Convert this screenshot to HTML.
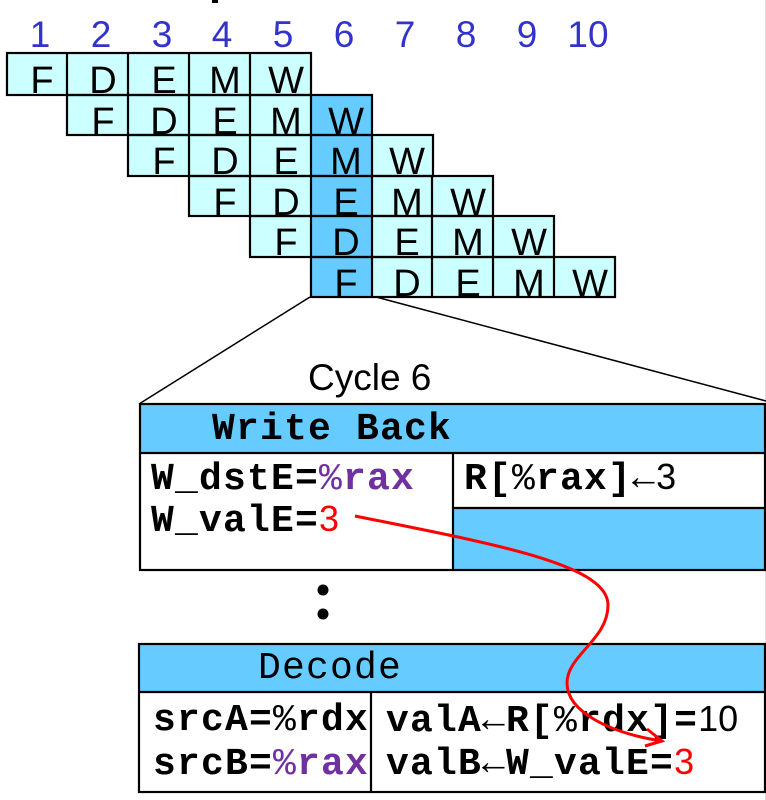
<!DOCTYPE html>
<html>
<head>
<meta charset="utf-8">
<style>
html,body{margin:0;padding:0;background:#fff;}
svg{display:block;}
.n{font-family:"Liberation Sans",Arial,sans-serif;font-size:37px;fill:#3333cc;text-anchor:middle;}
.c{font-family:"Liberation Sans",Arial,sans-serif;font-size:38px;fill:#000;text-anchor:middle;}
.m{font-family:"Liberation Mono","Courier New",monospace;font-size:38px;letter-spacing:1.2px;font-weight:bold;fill:#000;}
.t{font-weight:normal;}
.s{font-family:"Liberation Sans",Arial,sans-serif;font-weight:normal;font-size:36px;letter-spacing:0;}
.p{fill:#7030a0;}
.r{fill:#ff0000;}
</style>
</head>
<body>
<svg width="766" height="800" viewBox="0 0 766 800" xmlns="http://www.w3.org/2000/svg">
<rect x="0" y="0" width="766" height="800" fill="#fff"/>
<line x1="765.5" y1="0" x2="765.5" y2="800" stroke="#dddddd" stroke-width="1"/>
<rect x="212" y="0" width="6" height="3" fill="#000"/>

<!-- column numbers -->
<g class="n">
<text x="40" y="47">1</text>
<text x="101" y="47">2</text>
<text x="162" y="47">3</text>
<text x="222" y="47">4</text>
<text x="283" y="47">5</text>
<text x="344" y="47">6</text>
<text x="405" y="47">7</text>
<text x="466" y="47">8</text>
<text x="527" y="47">9</text>
<text x="588" y="47">10</text>
</g>

<!-- pipeline grid -->
<g>
<rect x="7" y="53" width="304" height="42" fill="#ccffff"/>
<rect x="67" y="95" width="244" height="40" fill="#ccffff"/>
<rect x="311" y="95" width="61" height="40" fill="#66ccff"/>
<rect x="128" y="135" width="183" height="41" fill="#ccffff"/>
<rect x="311" y="135" width="61" height="41" fill="#66ccff"/>
<rect x="372" y="135" width="61" height="41" fill="#ccffff"/>
<rect x="189" y="176" width="122" height="40" fill="#ccffff"/>
<rect x="311" y="176" width="61" height="40" fill="#66ccff"/>
<rect x="372" y="176" width="121" height="40" fill="#ccffff"/>
<rect x="250" y="216" width="61" height="41" fill="#ccffff"/>
<rect x="311" y="216" width="61" height="41" fill="#66ccff"/>
<rect x="372" y="216" width="182" height="41" fill="#ccffff"/>
<rect x="311" y="257" width="61" height="40" fill="#66ccff"/>
<rect x="372" y="257" width="243" height="40" fill="#ccffff"/>
</g>

<g class="c">
<text x="42" y="93">F</text><text x="103" y="93">D</text><text x="164" y="93">E</text><text x="225" y="93">M</text><text x="286" y="93">W</text>
<text x="103" y="134">F</text><text x="164" y="134">D</text><text x="225" y="134">E</text><text x="286" y="134">M</text><text x="346" y="134">W</text>
<text x="164" y="174">F</text><text x="225" y="174">D</text><text x="286" y="174">E</text><text x="346" y="174">M</text><text x="407" y="174">W</text>
<text x="225" y="215">F</text><text x="286" y="215">D</text><text x="346" y="215">E</text><text x="407" y="215">M</text><text x="468" y="215">W</text>
<text x="286" y="255">F</text><text x="346" y="255">D</text><text x="407" y="255">E</text><text x="468" y="255">M</text><text x="529" y="255">W</text>
<text x="346" y="296">F</text><text x="407" y="296">D</text><text x="468" y="296">E</text><text x="529" y="296">M</text><text x="590" y="296">W</text>
</g>

<g fill="none" stroke="#000" stroke-width="2.2">
<rect x="7" y="53" width="304" height="42"/>
<line x1="67" y1="53" x2="67" y2="95"/><line x1="128" y1="53" x2="128" y2="95"/><line x1="189" y1="53" x2="189" y2="95"/><line x1="250" y1="53" x2="250" y2="95"/>
<rect x="67" y="95" width="305" height="40"/>
<line x1="128" y1="95" x2="128" y2="135"/><line x1="189" y1="95" x2="189" y2="135"/><line x1="250" y1="95" x2="250" y2="135"/><line x1="311" y1="95" x2="311" y2="135"/>
<rect x="128" y="135" width="305" height="41"/>
<line x1="189" y1="135" x2="189" y2="176"/><line x1="250" y1="135" x2="250" y2="176"/><line x1="311" y1="135" x2="311" y2="176"/><line x1="372" y1="135" x2="372" y2="176"/>
<rect x="189" y="176" width="304" height="40"/>
<line x1="250" y1="176" x2="250" y2="216"/><line x1="311" y1="176" x2="311" y2="216"/><line x1="372" y1="176" x2="372" y2="216"/><line x1="432" y1="176" x2="432" y2="216"/>
<rect x="250" y="216" width="304" height="41"/>
<line x1="311" y1="216" x2="311" y2="257"/><line x1="372" y1="216" x2="372" y2="257"/><line x1="432" y1="216" x2="432" y2="257"/><line x1="493" y1="216" x2="493" y2="257"/>
<rect x="311" y="257" width="304" height="40"/>
<line x1="372" y1="257" x2="372" y2="297"/><line x1="432" y1="257" x2="432" y2="297"/><line x1="493" y1="257" x2="493" y2="297"/><line x1="554" y1="257" x2="554" y2="297"/>
</g>

<!-- zoom lines -->
<line x1="310" y1="297" x2="139" y2="404" stroke="#000" stroke-width="1.5"/>
<line x1="376" y1="297" x2="766" y2="401" stroke="#000" stroke-width="1.5"/>

<text x="308" y="390" font-family="Liberation Sans, Arial, sans-serif" font-size="37" fill="#000">Cycle 6</text>

<!-- Write Back box -->
<rect x="140" y="404" width="625" height="49" fill="#66ccff"/>
<rect x="453" y="508" width="312" height="62" fill="#66ccff"/>
<g fill="none" stroke="#000" stroke-width="2.2">
<rect x="140" y="404" width="625" height="166"/>
<line x1="140" y1="453" x2="765" y2="453"/>
<line x1="453" y1="453" x2="453" y2="570"/>
<line x1="453" y1="508" x2="765" y2="508"/>
</g>
<text class="m" x="212" y="439">Write Back</text>
<text class="m" x="151" y="489">W_dstE=<tspan class="p t">%</tspan><tspan class="p">rax</tspan></text>
<text class="m" x="151" y="531">W_valE=<tspan class="s r">3</tspan></text>
<text class="m" x="464" y="489">R[<tspan class="t">%</tspan>rax]<tspan class="t">←</tspan><tspan class="s">3</tspan></text>

<!-- colon -->
<circle cx="323" cy="590" r="5.5" fill="#000"/>
<circle cx="323" cy="614" r="5.5" fill="#000"/>

<!-- Decode box -->
<rect x="139" y="644" width="626" height="48" fill="#66ccff"/>
<g fill="none" stroke="#000" stroke-width="2.2">
<rect x="139" y="644" width="626" height="148"/>
<line x1="139" y1="692" x2="765" y2="692"/>
<line x1="371" y1="692" x2="371" y2="792"/>
</g>
<text class="m t" x="258" y="678">Decode</text>
<text class="m" x="153" y="730">srcA=<tspan class="t">%</tspan>rdx</text>
<text class="m" x="153" y="774">srcB=<tspan class="p t">%</tspan><tspan class="p">rax</tspan></text>
<text class="m" x="386" y="731">valA<tspan class="t">←</tspan>R[<tspan class="t">%</tspan>rdx]=<tspan class="s">10</tspan></text>
<text class="m" x="386" y="774">valB<tspan class="t">←</tspan>W_valE=<tspan class="s r">3</tspan></text>

<!-- red arrow -->
<path d="M355,516 C500,545 608,565 608,605 C608,640 567,655 567,683 C567,712 610,733 662,741" fill="none" stroke="#ff0000" stroke-width="3"/>
<path d="M647,729 L662,741 L645,746" fill="none" stroke="#ff0000" stroke-width="3" stroke-linejoin="miter"/>
</svg>
</body>
</html>
